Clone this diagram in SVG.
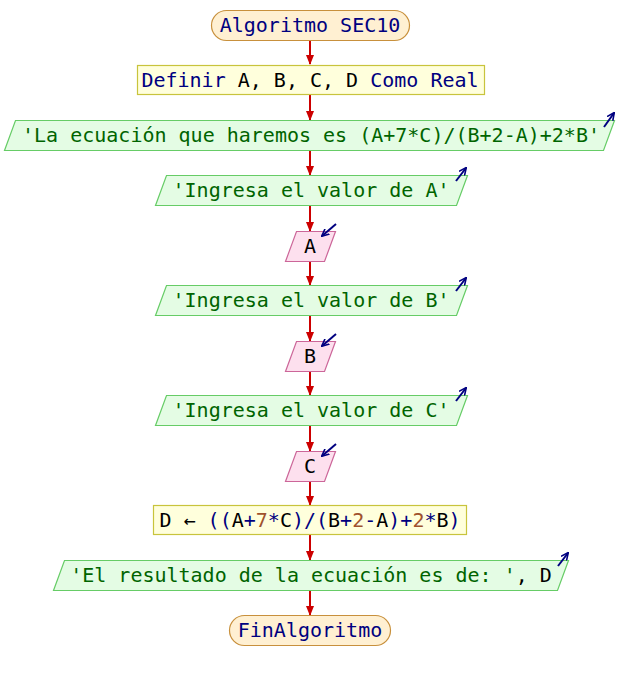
<svg xmlns="http://www.w3.org/2000/svg" width="620" height="680" viewBox="0 0 620 680">
<defs>
<marker id="ar" markerWidth="10" markerHeight="8" refX="9" refY="4" orient="auto" markerUnits="userSpaceOnUse"><path d="M0,0 L10,4 L0,8 Z" fill="#cc0000"/></marker>
<marker id="ab" markerWidth="8" markerHeight="8" refX="7" refY="4" orient="auto" markerUnits="userSpaceOnUse"><path d="M0,0.5 L7.5,4 L0,7.5" fill="none" stroke="#000080" stroke-width="1.6"/></marker>
<style>
text{font-family:"DejaVu Sans Mono","Liberation Mono",monospace;font-size:20px;text-anchor:middle}
.kw{fill:#000080}
.var{fill:#000000}
.str{fill:#006400}
.num{fill:#a0522d}
.term{fill:#fff0d2;stroke:#c8903c;stroke-width:1.2}
.proc{fill:#ffffdc;stroke:#c8c43c;stroke-width:1.2}
.out{fill:#e4fce4;stroke:#66cc66;stroke-width:1.2}
.in{fill:#fde0ee;stroke:#cc6699;stroke-width:1.2}
.con{stroke:#cc0000;stroke-width:2;fill:none}
.io{stroke:#000080;stroke-width:2;fill:none}
</style>
</defs>
<g id="connectors">
<line class="con" x1="310" y1="40" x2="310" y2="64" marker-end="url(#ar)"/>
<line class="con" x1="310" y1="95" x2="310" y2="120" marker-end="url(#ar)"/>
<line class="con" x1="310" y1="150" x2="310" y2="175" marker-end="url(#ar)"/>
<line class="con" x1="310" y1="205" x2="310" y2="231" marker-end="url(#ar)"/>
<line class="con" x1="310" y1="261" x2="310" y2="285" marker-end="url(#ar)"/>
<line class="con" x1="310" y1="315" x2="310" y2="341" marker-end="url(#ar)"/>
<line class="con" x1="310" y1="371" x2="310" y2="395" marker-end="url(#ar)"/>
<line class="con" x1="310" y1="425" x2="310" y2="451" marker-end="url(#ar)"/>
<line class="con" x1="310" y1="481" x2="310" y2="505" marker-end="url(#ar)"/>
<line class="con" x1="310" y1="535" x2="310" y2="560" marker-end="url(#ar)"/>
<line class="con" x1="310" y1="590" x2="310" y2="615" marker-end="url(#ar)"/>
</g>
<g id="start">
<rect class="term" x="211.5" y="10.5" width="198" height="30" rx="15"/>
<text x="310" y="32" class="kw">Algoritmo SEC10</text>
</g>
<g id="definir">
<rect class="proc" x="137.5" y="65.5" width="347" height="29"/>
<text x="310" y="87"><tspan class="kw">Definir</tspan><tspan class="var"> A, B, C, D </tspan><tspan class="kw">Como Real</tspan></text>
</g>
<g id="out1">
<polygon class="out" points="15.5,120.5 614.5,120.5 603.5,150.5 4.5,150.5"/>
<text x="311" y="142" class="str">'La ecuación que haremos es (A+7*C)/(B+2-A)+2*B'</text>
<line class="io" x1="604" y1="127" x2="614" y2="113" marker-end="url(#ab)"/>
</g>
<g id="out2">
<polygon class="out" points="166.5,175.5 467.5,175.5 456.5,205.5 155.5,205.5"/>
<text x="311" y="197" class="str">'Ingresa el valor de A'</text>
<line class="io" x1="456" y1="181" x2="466" y2="168" marker-end="url(#ab)"/>
</g>
<g id="inA">
<polygon class="in" points="296.5,231.5 335.5,231.5 324.5,261.5 285.5,261.5"/>
<text x="310" y="253" class="var">A</text>
<line class="io" x1="336" y1="224" x2="322" y2="236" marker-end="url(#ab)"/>
</g>
<g id="out3">
<polygon class="out" points="166.5,285.5 467.5,285.5 456.5,315.5 155.5,315.5"/>
<text x="311" y="307" class="str">'Ingresa el valor de B'</text>
<line class="io" x1="456" y1="291" x2="466" y2="278" marker-end="url(#ab)"/>
</g>
<g id="inB">
<polygon class="in" points="296.5,341.5 335.5,341.5 324.5,371.5 285.5,371.5"/>
<text x="310" y="363" class="var">B</text>
<line class="io" x1="336" y1="334" x2="322" y2="346" marker-end="url(#ab)"/>
</g>
<g id="out4">
<polygon class="out" points="166.5,395.5 467.5,395.5 456.5,425.5 155.5,425.5"/>
<text x="311" y="417" class="str">'Ingresa el valor de C'</text>
<line class="io" x1="456" y1="401" x2="466" y2="388" marker-end="url(#ab)"/>
</g>
<g id="inC">
<polygon class="in" points="296.5,451.5 335.5,451.5 324.5,481.5 285.5,481.5"/>
<text x="310" y="473" class="var">C</text>
<line class="io" x1="336" y1="444" x2="322" y2="456" marker-end="url(#ab)"/>
</g>
<g id="assign">
<rect class="proc" x="153.5" y="505.5" width="313" height="29"/>
<text x="310" y="527"><tspan class="var">D ← </tspan><tspan class="kw">((</tspan><tspan class="var">A</tspan><tspan class="kw">+</tspan><tspan class="num">7</tspan><tspan class="kw">*</tspan><tspan class="var">C</tspan><tspan class="kw">)/(</tspan><tspan class="var">B</tspan><tspan class="kw">+</tspan><tspan class="num">2</tspan><tspan class="kw">-</tspan><tspan class="var">A</tspan><tspan class="kw">)+</tspan><tspan class="num">2</tspan><tspan class="kw">*</tspan><tspan class="var">B</tspan><tspan class="kw">)</tspan></text>
</g>
<g id="out5">
<polygon class="out" points="64.5,560.5 568.5,560.5 557.5,590.5 53.5,590.5"/>
<text x="311" y="582"><tspan class="str">'El resultado de la ecuación es de: '</tspan><tspan class="var">, D</tspan></text>
<line class="io" x1="558" y1="566" x2="568" y2="553" marker-end="url(#ab)"/>
</g>
<g id="end">
<rect class="term" x="229.5" y="615.5" width="161" height="30" rx="15"/>
<text x="310" y="637" class="kw">FinAlgoritmo</text>
</g>
</svg>
